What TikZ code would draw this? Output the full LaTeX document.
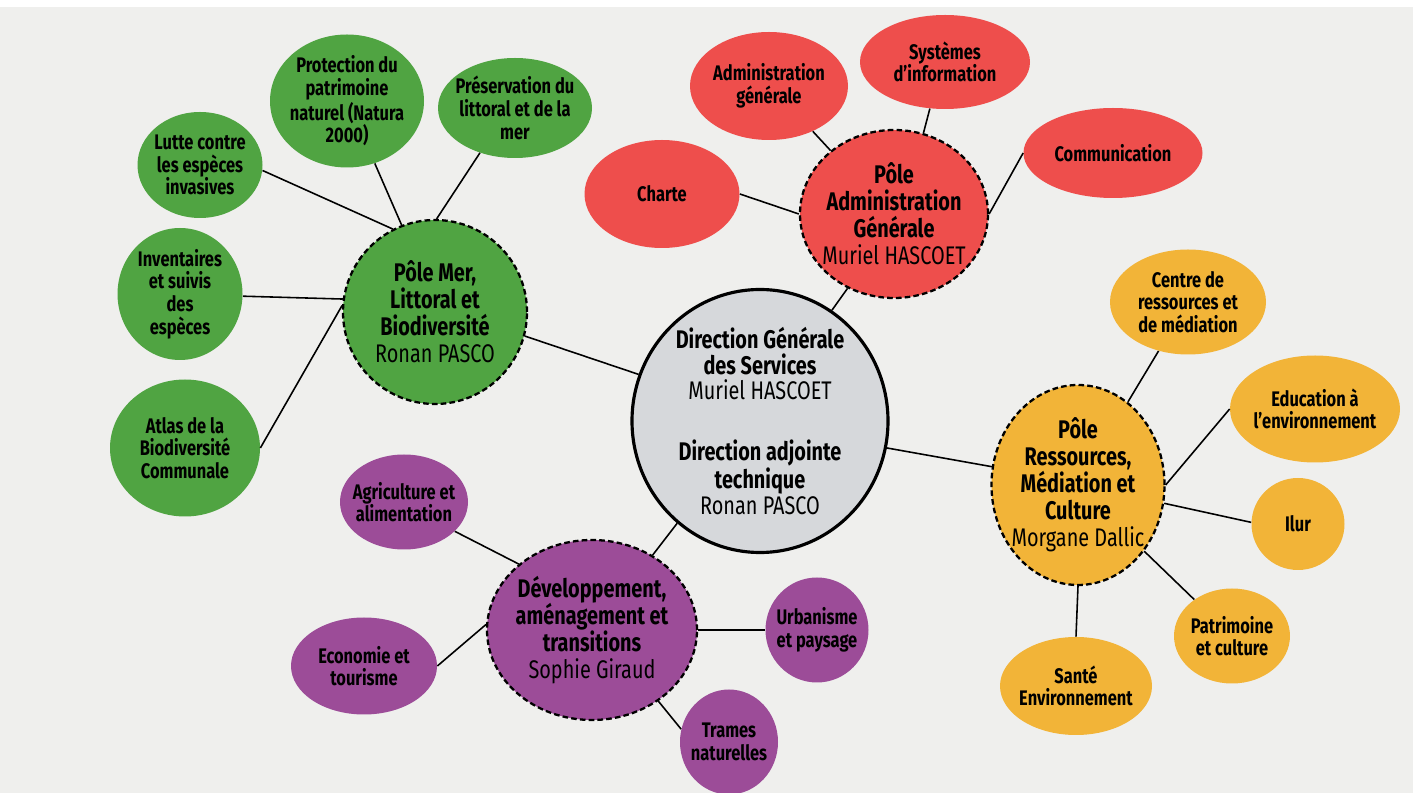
\documentclass[tikz,border=0pt]{standalone}
\usepackage{fontspec}
\setmainfont{Fira Sans}[FakeStretch=0.78]
\usetikzlibrary{shapes.geometric}
\definecolor{paper}{RGB}{239,239,237}
\definecolor{merGreen}{RGB}{80,164,66}
\definecolor{admRed}{RGB}{238,78,76}
\definecolor{ressOrange}{RGB}{242,180,56}
\definecolor{devPurple}{RGB}{156,76,152}
\definecolor{dgsGrey}{RGB}{214,216,219}
\newcommand{\who}[1]{{\mdseries #1}}

\begin{document}
\begin{tikzpicture}[x=0.02cm, y=-0.02cm,
    wh/.style 2 args={minimum width=#1*0.02cm, minimum height=#2*0.02cm},
    leaf/.style={ellipse, inner sep=-8pt, align=center, font=\fontsize{12}{12.9}\selectfont\bfseries},
    pole/.style={ellipse, inner sep=-6pt, align=center, draw=black, line width=1.3pt, dash pattern=on 3.2pt off 1.8pt, font=\fontsize{14.5}{15.4}\selectfont\bfseries},
    link/.style={line width=0.9pt}]
    \useasboundingbox (0,0) rectangle (1421,793);
    \clip (0,0) rectangle (1421,793);
    \fill[paper] (0,0) rectangle (1421,793);
    \fill[white] (0,0) rectangle (1421,7);
    \fill[white] (1413,0) rectangle (1421,793);

    \node[ellipse, wh={256}{263}, fill=dgsGrey, draw=black, line width=1.8pt, inner sep=-6pt, align=center, font=\fontsize{14.5}{14.5}\selectfont\bfseries] (dgs) at (760,421)
        {Direction Générale\\des Services\\\who{Muriel HASCOET}\\[20pt]Direction adjointe\\technique\\\who{Ronan PASCO}};

    \node[pole, wh={184}{184}, fill=merGreen] (mer) at (435,312) {Pôle Mer,\\Littoral et\\Biodiversité\\\who{Ronan PASCO}};
    \node[leaf, wh={154}{133}, fill=merGreen] (protection) at (347,101) {Protection du\\patrimoine\\naturel (Natura\\2000)};
    \node[leaf, wh={154}{100}, fill=merGreen] (littoral) at (515,108) {Préservation du\\littoral et de la\\mer};
    \node[leaf, wh={125}{106}, fill=merGreen] (invasives) at (200,165) {Lutte contre\\les espèces\\invasives};
    \node[leaf, wh={125}{132}, fill=merGreen] (inventaires) at (180,294) {Inventaires\\et suivis\\des\\espèces};
    \node[leaf, wh={150}{137}, fill=merGreen] (atlas) at (185,448) {Atlas de la\\Biodiversité\\Communale};

    \node[pole, wh={188}{168}, fill=admRed] (adm) at (894,214) {Pôle\\Administration\\Générale\\\who{Muriel HASCOET}};
    \node[leaf, wh={158}{108}, fill=admRed] (admgen) at (769,86) {Administration\\générale};
    \node[leaf, wh={170}{94}, fill=admRed] (systemes) at (945,62) {Systèmes\\d'information};
    \node[leaf, wh={179}{90}, fill=admRed] (communication) at (1113,153) {Communication};
    \node[leaf, wh={155}{108}, fill=admRed] (charte) at (662,194) {Charte};

    \node[pole, wh={173}{200}, fill=ressOrange, inner xsep=-10pt] (ress) at (1078,485) {Pôle\\Ressources,\\Médiation et\\Culture\\\who{Morgane Dallic}};
    \node[leaf, wh={156}{105}, fill=ressOrange] (centre) at (1188,302) {Centre de\\ressources et\\de médiation};
    \node[leaf, wh={170}{107}, fill=ressOrange] (education) at (1315,409) {Education à\\l'environnement};
    \node[leaf, wh={93}{92}, fill=ressOrange] (ilur) at (1298,524) {Ilur};
    \node[leaf, wh={116}{95}, fill=ressOrange] (patrimoine) at (1232,636) {Patrimoine\\et culture};
    \node[leaf, wh={152}{98}, fill=ressOrange] (sante) at (1076,686) {Santé\\Environnement};

    \node[pole, wh={210}{180}, fill=devPurple] (dev) at (592,630) {Développement,\\aménagement et\\transitions\\\who{Sophie Giraud}};
    \node[leaf, wh={128}{95}, fill=devPurple] (agriculture) at (404,502) {Agriculture et\\alimentation};
    \node[leaf, wh={146}{97}, fill=devPurple] (economie) at (364,666) {Economie et\\tourisme};
    \node[leaf, wh={103}{105}, fill=devPurple] (urbanisme) at (817,630) {Urbanisme\\et paysage};
    \node[leaf, wh={98}{105}, fill=devPurple] (trames) at (729,742) {Trames\\naturelles};

    \draw[link] (mer.-15) -- (dgs.159);
    \draw[link] (invasives.-5) -- (mer.117);
    \draw[link] (protection.-66) -- (mer.111);
    \draw[link] (littoral.-128) -- (mer.89);
    \draw[link] (inventaires.-2) -- (mer.172);
    \draw[link] (atlas.0) -- (mer.176);

    \draw[link] (adm.-122) -- (dgs.57);
    \draw[link] (admgen.-46) -- (adm.135);
    \draw[link] (systemes.-108) -- (adm.70);
    \draw[link] (communication.180) -- (adm.0);
    \draw[link] (charte.0) -- (adm.180);

    \draw[link] (dgs.-12) -- (ress.168);
    \draw[link] (centre.-121) -- (ress.59);
    \draw[link] (education.180) -- (ress.0);
    \draw[link] (ilur.178) -- (ress.-12);
    \draw[link] (patrimoine.136) -- (ress.-45);
    \draw[link] (sante.90) -- (ress.-90);

    \draw[link] (dev.51) -- (dgs.-129);
    \draw[link] (agriculture.-30) -- (dev.138);
    \draw[link] (economie.0) -- (dev.177);
    \draw[link] (urbanisme.180) -- (dev.0);
    \draw[link] (trames.165) -- (dev.-47);
\end{tikzpicture}
\end{document}
